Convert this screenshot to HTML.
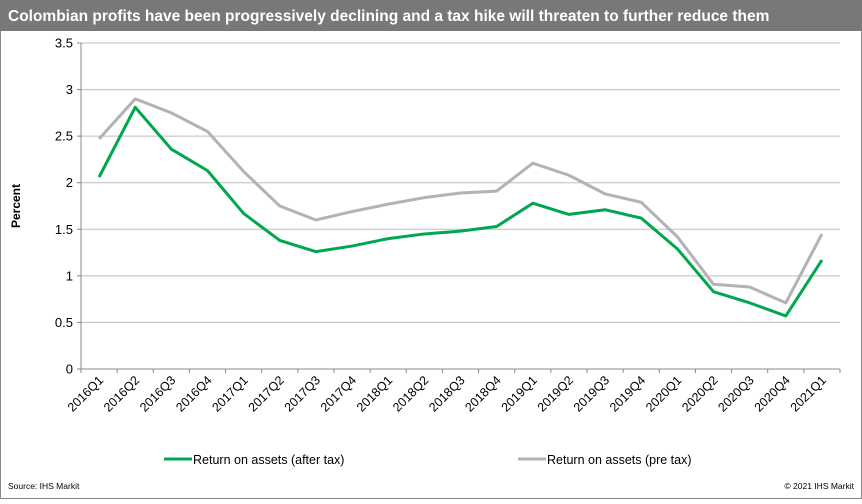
<!DOCTYPE html>
<html><head><meta charset="utf-8"><style>
body{margin:0;width:862px;height:499px;overflow:hidden;background:#fff;font-family:"Liberation Sans",Arial,sans-serif}
</style></head><body>
<svg width="862" height="499" xmlns="http://www.w3.org/2000/svg" font-family="Liberation Sans, Arial, sans-serif">
<rect x="0.5" y="0.5" width="861" height="498" fill="#fff" stroke="#8a8a8a"/>
<rect x="0" y="0" width="862" height="31" fill="#787878"/>
<text x="8" y="21" fill="#fff" font-size="15.5" font-weight="bold">Colombian profits have been progressively declining and a tax hike will threaten to further reduce them</text>
<g id="grid"></g><g id="axes"></g><g id="series"></g>
<text transform="translate(20,206) rotate(-90)" text-anchor="middle" font-size="12" font-weight="bold">Percent</text>
<line x1="164" y1="459" x2="192" y2="459" stroke="#00a650" stroke-width="3"/>
<text x="193" y="464" font-size="12.5">Return on assets (after tax)</text>
<line x1="518" y1="459" x2="546" y2="459" stroke="#b3b3b3" stroke-width="3"/>
<text x="547" y="464" font-size="12.5">Return on assets (pre tax)</text>
<text x="8" y="489" font-size="8.5">Source: IHS Markit</text>
<text x="854" y="489" font-size="8.5" text-anchor="end">© 2021 IHS Markit</text>
</svg>
<script>
const categories=["2016Q1","2016Q2","2016Q3","2016Q4","2017Q1","2017Q2","2017Q3","2017Q4","2018Q1","2018Q2","2018Q3","2018Q4","2019Q1","2019Q2","2019Q3","2019Q4","2020Q1","2020Q2","2020Q3","2020Q4","2021Q1"];
const afterTax=[2.06,2.81,2.36,2.13,1.67,1.38,1.26,1.32,1.40,1.45,1.48,1.53,1.78,1.66,1.71,1.62,1.29,0.83,0.71,0.57,1.17];
const preTax=[2.47,2.90,2.75,2.55,2.12,1.75,1.60,1.69,1.77,1.84,1.89,1.91,2.21,2.08,1.88,1.79,1.42,0.91,0.88,0.71,1.45];
const yTicks=[0,0.5,1,1.5,2,2.5,3,3.5];
const yTickLabels=["0","0.5","1","1.5","2","2.5","3","3.5"];
const NS="http://www.w3.org/2000/svg";
const X0=81,X1=840,Y0=369,Y1=43,YMAX=3.5;
const bw=(X1-X0)/categories.length;
const xs=i=>X0+bw*(i+0.5);
const ys=v=>Y0-(v/YMAX)*(Y0-Y1);
function mk(t,a,p){const e=document.createElementNS(NS,t);for(const k in a)e.setAttribute(k,a[k]);p.appendChild(e);return e;}
const grid=document.getElementById('grid'),axes=document.getElementById('axes'),ser=document.getElementById('series');
yTicks.forEach((v,i)=>{
 if(v>0){const g=mk('line',{x1:X0,x2:X1,y1:ys(v),y2:ys(v),stroke:'#bdbdbd','stroke-width':1},grid);
 
 }
 const tk=mk('line',{x1:X0-4,x2:X0,y1:ys(v),y2:ys(v),stroke:'#888'},axes);
 
 
 const t=mk('text',{x:X0-8,y:ys(v)+4.5,'text-anchor':'end','font-size':13},axes);
 t.textContent=yTickLabels[i];
 
 
});
const ya=mk('line',{x1:X0,x2:X0,y1:Y1,y2:Y0,stroke:'#888'},axes);


const xa=mk('line',{x1:X0,x2:X1,y1:Y0,y2:Y0,stroke:'#888'},axes);


for(let i=0;i<=categories.length;i++){
 const tk=mk('line',{x1:X0+bw*i,x2:X0+bw*i,y1:Y0,y2:Y0+4,stroke:'#888'},axes);
 
 
}
categories.forEach((c,i)=>{
 const x=xs(i)+5,y=Y0+12;
 const t=mk('text',{x:x,y:y,'text-anchor':'end','font-size':12.5,transform:`rotate(-45 ${x} ${y})`},axes);
 t.textContent=c;
 
 
});
function line(vals,col,name){
 const p=mk('polyline',{points:vals.map((v,i)=>xs(i)+','+ys(v)).join(' '),fill:'none',stroke:col,'stroke-width':3,'stroke-linejoin':'round'},ser);
 
 
}
line(preTax,'#b3b3b3','line-pre-tax');
line(afterTax,'#00a650','line-after-tax');
</script>
</body></html>
